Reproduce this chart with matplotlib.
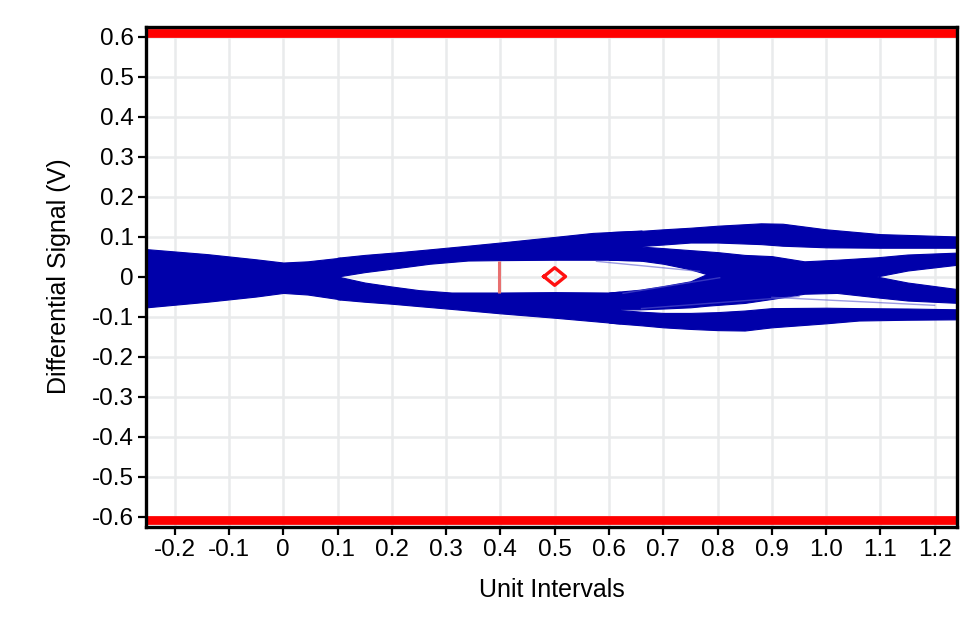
import matplotlib
matplotlib.use("Agg")
import matplotlib.pyplot as plt

plt.rcParams['font.family'] = ['Liberation Sans', 'DejaVu Sans']

# ---- axis ticks ----
x_ticks = [-0.2, -0.1, 0.0, 0.1, 0.2, 0.3, 0.4, 0.5, 0.6, 0.7, 0.8, 0.9, 1.0, 1.1, 1.2]
x_tick_labels = ["-0.2", "-0.1", "0", "0.1", "0.2", "0.3", "0.4", "0.5", "0.6", "0.7",
                 "0.8", "0.9", "1.0", "1.1", "1.2"]
y_ticks = [0.6, 0.5, 0.4, 0.3, 0.2, 0.1, 0.0, -0.1, -0.2, -0.3, -0.4, -0.5, -0.6]
y_tick_labels = ["0.6", "0.5", "0.4", "0.3", "0.2", "0.1", "0", "-0.1", "-0.2", "-0.3",
                 "-0.4", "-0.5", "-0.6"]

# ---- eye-diagram trace bundles (x in UI, lower / upper envelope in V) ----
blob_x = [-0.252, -0.14, -0.05, 0.0, 0.045, 0.105]
blob_hi = [0.0685, 0.056, 0.0430, 0.035, 0.038, 0.047]
blob_lo = [-0.077, -0.063, -0.050, -0.041, -0.045, -0.057]

upper_x = [0.1, 0.15, 0.214, 0.27, 0.34, 0.4, 0.5, 0.57, 0.6, 0.66]
upper_hi = [0.047, 0.054, 0.061, 0.068, 0.077, 0.085, 0.099, 0.109, 0.111, 0.115]
upper_lo = [0.0, 0.011, 0.022, 0.032, 0.040, 0.041, 0.042, 0.042, 0.042, 0.040]

lower_x = [0.1, 0.15, 0.2, 0.25, 0.31, 0.4, 0.5, 0.6, 0.62]
lower_hi = [0.0, -0.015, -0.025, -0.034, -0.040, -0.040, -0.039, -0.040, -0.038]
lower_lo = [-0.057, -0.063, -0.068, -0.074, -0.081, -0.092, -0.103, -0.115, -0.117]

top_x = [0.6, 0.657, 0.7, 0.75, 0.8, 0.88, 0.92, 1.0, 1.1, 1.245]
top_hi = [0.111, 0.114, 0.118, 0.122, 0.127, 0.133, 0.132, 0.118, 0.106, 0.100]
top_lo = [0.070, 0.076, 0.080, 0.085, 0.085, 0.081, 0.077, 0.073, 0.072, 0.072]

mid_x = [0.6, 0.657, 0.7, 0.75, 0.78, 0.8, 0.85, 0.9, 0.96, 1.02, 1.08, 1.093, 1.15, 1.245]
mid_up_hi = [0.080, 0.075, 0.071, 0.066, 0.063, 0.061, 0.054, 0.051, 0.038, 0.042, 0.047,
             0.048, 0.055, 0.060]
mid_up_lo = [0.042, 0.040, 0.032, 0.018, 0.006, -0.010, -0.010, -0.010, -0.010, -0.010,
             -0.010, 0.0, 0.015, 0.030]
mid_dn_hi = [-0.040, -0.033, -0.024, -0.012, 0.006, 0.010, 0.010, 0.010, 0.010, 0.010,
             0.010, 0.0, -0.015, -0.032]
mid_dn_lo = [-0.082, -0.082, -0.080, -0.077, -0.073, -0.071, -0.066, -0.056, -0.043,
             -0.041, -0.050, -0.052, -0.060, -0.066]

bot_x = [0.6, 0.613, 0.66, 0.7, 0.75, 0.8, 0.85, 0.9, 1.0, 1.06, 1.15, 1.245]
bot_hi = [-0.075, -0.083, -0.088, -0.091, -0.091, -0.089, -0.085, -0.079, -0.078, -0.079,
          -0.080, -0.082]
bot_lo = [-0.115, -0.117, -0.122, -0.127, -0.131, -0.134, -0.135, -0.127, -0.117, -0.110,
          -0.108, -0.107]

# faint individual traces crossing the openings
faint_traces = [
    ([0.577, 0.767], [0.038, 0.013]),
    ([0.626, 0.804], [-0.042, -0.003]),
    ([0.66, 0.95], [-0.080, -0.050]),
    ([0.90, 1.20], [-0.052, -0.072]),
]

# mask markers
mask_line_x = [0.398, 0.398]
mask_line_y = [-0.041, 0.040]
diamond_x = [0.48, 0.50, 0.52, 0.50, 0.48]
diamond_y = [0.0, 0.022, 0.0, -0.022, 0.0]
limit_levels = [0.608, -0.609]

BLUE = '#0000aa'

fig = plt.figure(figsize=(9.79, 6.39), dpi=100)
ax = fig.add_axes([0.1496, 0.176, 0.8284, 0.7825])

bands = [
    (blob_x, blob_lo, blob_hi),
    (upper_x, upper_lo, upper_hi),
    (lower_x, lower_lo, lower_hi),
    (top_x, top_lo, top_hi),
    (mid_x, mid_up_lo, mid_up_hi),
    (mid_x, mid_dn_lo, mid_dn_hi),
    (bot_x, bot_lo, bot_hi),
]
for bx, blo, bhi in bands:
    ax.fill_between(bx, blo, bhi, color=BLUE, linewidth=0.8, edgecolor=BLUE, zorder=3)

for fx, fy in faint_traces:
    ax.plot(fx, fy, color='#5a5ad0', lw=1.0, alpha=0.6, zorder=3)

ax.plot(mask_line_x, mask_line_y, color='#e87070', lw=2.2, zorder=4, solid_capstyle='butt')
ax.plot(diamond_x, diamond_y, color='#ff1010', lw=2.4, zorder=4)

for lv in limit_levels:
    ax.axhline(lv, color='#ff0000', lw=6.3, zorder=4)

ax.set_xlim(-0.252, 1.242)
ax.set_ylim(-0.625, 0.625)
ax.set_xticks(x_ticks)
ax.set_xticklabels(x_tick_labels)
ax.set_yticks(y_ticks)
ax.set_yticklabels(y_tick_labels)

ax.grid(True, color='#e9ebec', lw=1.8, zorder=0)
ax.set_axisbelow(True)

for sp in ax.spines.values():
    sp.set_linewidth(2.4)
    sp.set_color('black')
    sp.set_zorder(6)

ax.tick_params(axis='both', direction='out', length=6, width=1.6, labelsize=17.5, pad=3,
               color='black', labelcolor='black')

ax.set_xlabel('Unit Intervals', fontsize=18, labelpad=12)
ax.set_ylabel('Differential Signal (V)', fontsize=18, labelpad=15)

fig.savefig('out.png', dpi=100)
